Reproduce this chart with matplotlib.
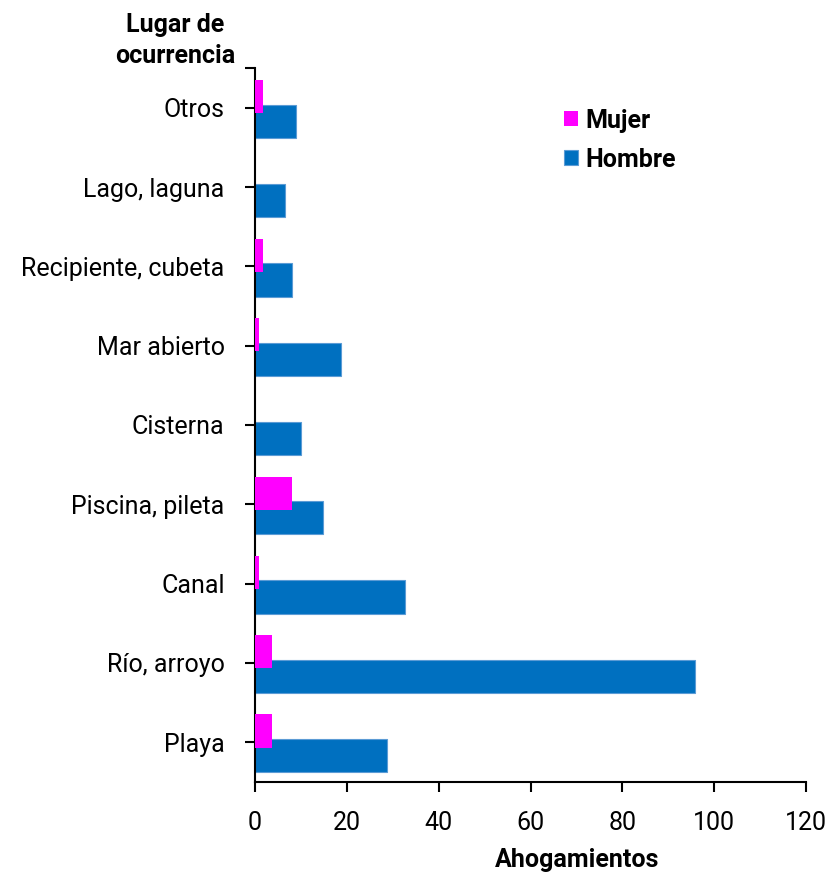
import matplotlib
matplotlib.use("Agg")
import matplotlib.pyplot as plt
import numpy as np

categories = ["Playa", "Río, arroyo", "Canal", "Piscina, pileta", "Cisterna",
              "Mar abierto", "Recipiente, cubeta", "Lago, laguna", "Otros"]
mujer = [3.6, 3.6, 0.8, 8.0, 0.0, 0.9, 1.7, 0.0, 1.7]
hombre = [28.8, 95.8, 32.7, 14.8, 10.0, 18.6, 8.0, 6.5, 9.0]
xticks = [0, 20, 40, 60, 80, 100, 120]

plt.rcParams['font.family'] = ['Roboto', 'DejaVu Sans']

fig = plt.figure(figsize=(8.31, 8.74), dpi=100)
ax = fig.add_axes([0.307, 0.1056, 0.663, 0.8163])

y = np.arange(len(categories))
h = 0.42
ax.barh(y - 0.17, hombre, height=h, color='#0070C0', edgecolor='#5B9BD5',
        linewidth=0.8, label='Hombre', zorder=2)
ax.barh(y + 0.14, mujer, height=h, color='#FF00FF', linewidth=0,
        label='Mujer', zorder=3)

ax.set_ylim(-0.5, len(categories) - 0.5)
ax.set_xlim(0, 120)
ax.set_xticks(xticks)
ax.set_xticklabels([str(v) for v in xticks], fontsize=18)
ax.set_yticks(y)
ax.set_yticklabels(categories, fontsize=18)
ax.set_yticks([len(categories) - 0.5], minor=True)
ax.tick_params(axis='y', which='minor', length=7, width=1.5, direction='out')
ax.tick_params(axis='y', which='major', length=7, width=1.5, direction='out', pad=15)
ax.tick_params(axis='x', length=7, width=1.5, direction='out', pad=14)

for s in ['top', 'right']:
    ax.spines[s].set_visible(False)
for s in ['left', 'bottom']:
    ax.spines[s].set_linewidth(1.5)
    ax.spines[s].set_color('black')

fig.text(0.211, 0.971, "Lugar de", ha='center', va='center', fontsize=18, fontweight='bold')
fig.text(0.211, 0.936, "ocurrencia", ha='center', va='center', fontsize=18, fontweight='bold')
fig.text(0.694, 0.016, "Ahogamientos", ha='center', va='center', fontsize=18, fontweight='bold')

handles, labels = ax.get_legend_handles_labels()
leg = ax.legend(handles[::-1], labels[::-1], loc='upper left',
                bbox_to_anchor=(0.52, 0.975), frameon=False,
                prop={'weight': 'bold', 'size': 18},
                handlelength=0.56, handleheight=0.56, handletextpad=0.3,
                labelspacing=0.6)

fig.savefig("out.png", dpi=100)
